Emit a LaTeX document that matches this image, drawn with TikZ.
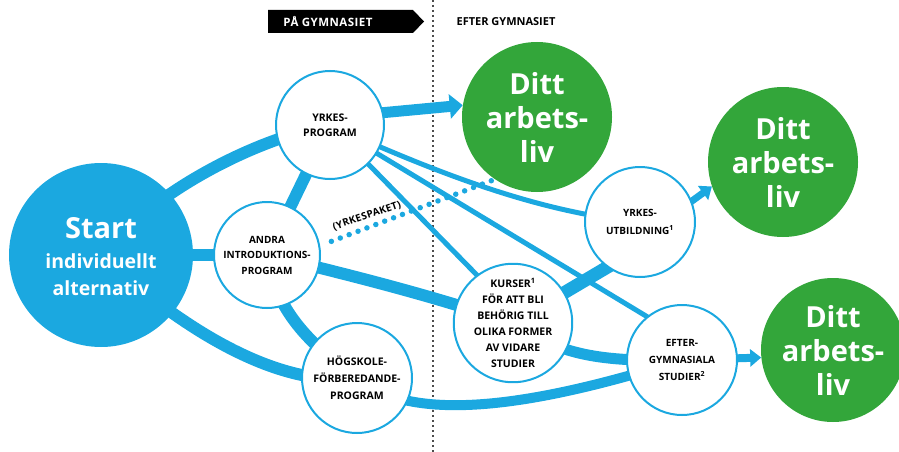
\documentclass[tikz,border=0pt]{standalone}
\usepackage{fontspec}
\setmainfont{Open Sans}
\usetikzlibrary{arrows.meta,backgrounds}
\definecolor{cblue}{RGB}{27,168,224}
\definecolor{cgreen}{RGB}{51,166,58}
\begin{document}
\begin{tikzpicture}[x=1pt,y=-1pt,
  wcirc/.style={circle,draw=cblue,line width=2pt,fill=white,inner sep=0pt,minimum size=110pt,align=center,text=black,font=\bfseries\fontsize{10.5}{15.5}\selectfont},
  gcirc/.style={circle,fill=cgreen,inner sep=0pt,minimum size=150pt,align=center,text=white,font=\bfseries\fontsize{29}{34}\selectfont},
  band/.style={draw=cblue,line width=12pt},
  thinline/.style={draw=cblue,line width=5pt},
  tipbig/.style={-{Triangle[length=13pt,width=24pt]}},
  tipsmall/.style={-{Triangle[length=11pt,width=17pt]}},
  whitetxt/.style={text=white,font=\bfseries},
]
\useasboundingbox (0,0) rectangle (899,452);
\clip (0,0) rectangle (899,452);

% circles
\node[circle,fill=cblue,inner sep=0pt,minimum size=184pt] (start) at (101,255) {};
\node[anchor=base,whitetxt,font=\bfseries\fontsize{29}{29}\selectfont] (t1) at (101,238) {Start};
\node[anchor=base,whitetxt,font=\bfseries\fontsize{19.5}{20}\selectfont] (t2) at (101,268) {individuellt};
\node[anchor=base,whitetxt,font=\bfseries\fontsize{19.5}{20}\selectfont] (t3) at (101,295) {alternativ};

\node[wcirc,minimum size=108pt] (yp) at (330,125) {YRKES-\\PROGRAM};
\node[wcirc,minimum size=106pt,font=\bfseries\fontsize{10}{15.5}\selectfont] (andra) at (267,255) {ANDRA\\INTRODUKTIONS-\\PROGRAM};
\node[wcirc,font=\bfseries\fontsize{10.5}{17}\selectfont] (hog) at (357,378) {HÖGSKOLE-\\FÖRBEREDANDE-\\PROGRAM};
\node[wcirc,font=\bfseries\fontsize{10.5}{16}\selectfont] (kurs) at (513,323) {KURSER\textsuperscript{1}\\FÖR ATT BLI\\BEHÖRIG TILL\\OLIKA FORMER\\AV VIDARE\\STUDIER};
\node[wcirc,font=\bfseries\fontsize{10}{18}\selectfont] (utb) at (640,222) {YRKES-\\UTBILDNING\textsuperscript{1}};
\node[wcirc,font=\bfseries\fontsize{10}{17}\selectfont] (efter) at (682,360) {EFTER-\\GYMNASIALA\\STUDIER\textsuperscript{2}};

\node[gcirc] (g1) at (537,117) {Ditt\\arbets-\\liv};
\node[gcirc] (g2) at (783,162) {Ditt\\arbets-\\liv};
\node[gcirc,minimum size=144pt] (g3) at (833,350) {Ditt\\arbets-\\liv};

% header
\fill[black] (268,10) -- (413,10) -- (424,21.5) -- (413,33) -- (268,33) -- cycle;
\node[text=white,font=\bfseries\fontsize{11.5}{13}\selectfont\addfontfeatures{LetterSpace=4}] (pa) at (328,21.5) {PÅ GYMNASIET};
\node[font=\bfseries\fontsize{11}{12}\selectfont] (ef) at (506,22) {EFTER GYMNASIET};

% label
\node[rotate=19,inner sep=1pt,font=\bfseries\fontsize{10}{12}\selectfont\addfontfeatures{LetterSpace=3}] (ykl) at (367,216) {(YRKESPAKET)};

\begin{pgfonlayer}{background}
  \coordinate (dtop) at (433,0);
  \coordinate (dbot) at (433,452);
  \draw[gray!60!black,line width=2pt,dash pattern=on 2pt off 3pt] (dtop) -- (dbot);
  % thin lines
  \draw[thinline] (yp.center) .. controls (420,165) and (530,212) .. (utb.center);
  \draw[thinline,shorten >=-3pt] (yp.center) -- (efter.129);
  \draw[thinline,shorten >=-3pt] (yp.center) -- (kurs.127);
  % dotted
  \draw[cblue,line width=5.5pt,line cap=round,dash pattern=on 0pt off 9.5pt,shorten <=12pt,shorten >=2pt] (andra.10) -- (g1.236);
  % bands
  \draw[band] (start.center) .. controls (150,195) and (250,140) .. (yp.center);
  \draw[band] (start.center) -- (andra.center);
  \draw[band] (start.center) .. controls (150,300) and (260,390) .. (hog.center);
  \draw[band] (yp.center) -- (andra.center);
  \draw[band] (andra.center) .. controls (275,310) and (310,345) .. (hog.center);
  \draw[band] (andra.center) .. controls (350,275) and (430,295) .. (kurs.center);
  \draw[band,line width=13pt,shorten >=-6pt] (kurs.center) -- (utb.234);
  \draw[band,line width=11pt] (kurs.center) .. controls (560,355) and (600,362) .. (efter.center);
  \draw[band,line width=10pt] (hog.center) .. controls (420,430) and (560,398) .. (efter.center);
  % arrows
  \draw[band,line width=11pt,tipbig,shorten <=-10pt] (yp.13) -- (g1.171);
  \draw[band,line width=7pt,tipsmall,shorten <=-4pt] (utb.22) -- (g2.199);
  \draw[band,line width=8pt,tipsmall] (efter.center) -- (g3.186);
\end{pgfonlayer}
\end{tikzpicture}
\end{document}
